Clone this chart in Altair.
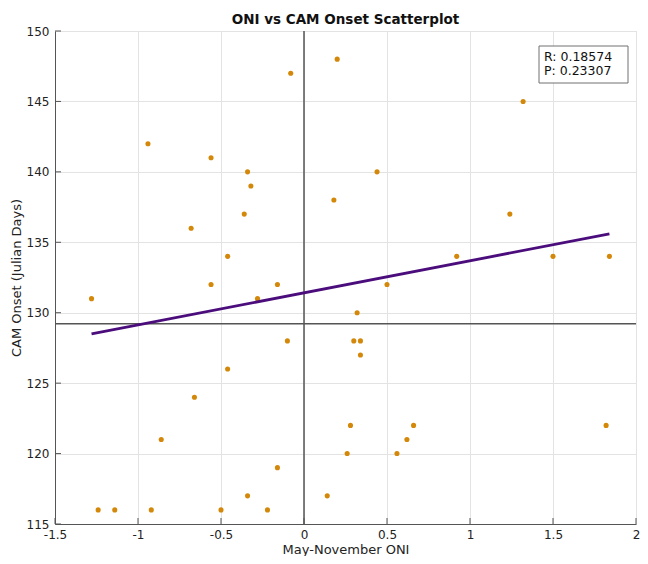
import altair as alt
import pandas as pd

# ---- data ----
oni = [-1.28, -1.24, -1.14, -0.94, -0.92, -0.86, -0.68, -0.66, -0.56, -0.56,
       -0.50, -0.46, -0.46, -0.36, -0.34, -0.34, -0.32, -0.28, -0.22, -0.16,
       -0.16, -0.10, -0.08, 0.14, 0.18, 0.20, 0.26, 0.28, 0.30, 0.32,
       0.34, 0.34, 0.44, 0.50, 0.56, 0.62, 0.66, 0.92, 1.24, 1.32,
       1.50, 1.82, 1.84]
onset = [131, 116, 116, 142, 116, 121, 136, 124, 141, 132,
         116, 134, 126, 137, 140, 117, 139, 131, 116, 132,
         119, 128, 147, 117, 138, 148, 120, 122, 128, 130,
         128, 127, 140, 132, 120, 121, 122, 134, 137, 145,
         134, 122, 134]
fit_x = [-1.28, 1.84]
fit_y = [128.5, 135.6]
x_ticks = [-1.5, -1, -0.5, 0, 0.5, 1, 1.5, 2]
y_ticks = [115, 120, 125, 130, 135, 140, 145, 150]
zero_x = [0]
stats_lines = ["R: 0.18574", "P: 0.23307"]

W, H = 581, 493
FONT = "DejaVu Sans"
XT = "May-November ONI"
YT = "CAM Onset (Julian Days)"
TXT = "#222222"
AX = "#555555"

df = pd.DataFrame({"oni": oni, "onset": onset})
xs = alt.Scale(domain=[-1.5, 2], nice=False, zero=False)
ys = alt.Scale(domain=[115, 150], nice=False, zero=False)

lab = "datum.value < 0 ? '-' + format(-datum.value, '~g') : format(datum.value, '~g')"

x_axis = alt.Axis(values=x_ticks, ticks=False, labelFontSize=12, labelPadding=5,
                  labelExpr=lab, titleFontSize=13, titleFontWeight="normal",
                  titleX=W / 2, titleY=29, titleBaseline="alphabetic", titleAlign="center",
                  domainColor=AX, gridColor="#e3e3e3", labelColor=TXT, titleColor=TXT,
                  labelFlush=False, labelOverlap=False, labelFont=FONT, titleFont=FONT)
y_axis = alt.Axis(values=y_ticks, ticks=False, labelFontSize=12, labelPadding=6,
                  labelExpr=lab, titleFontSize=13, titleFontWeight="normal",
                  titleX=-35, titleY=H / 2, titleBaseline="alphabetic", titleAlign="center",
                  domainColor=AX, gridColor="#e3e3e3", labelColor=TXT, titleColor=TXT,
                  labelFlush=False, labelOverlap=False, labelFont=FONT, titleFont=FONT)

axes_layer = alt.Chart(df).mark_circle(opacity=0).encode(
    x=alt.X("oni:Q", scale=xs, axis=x_axis, title=XT),
    y=alt.Y("onset:Q", scale=ys, axis=y_axis, title=YT),
)

zero_rule = alt.Chart(pd.DataFrame({"oni": zero_x})).mark_rule(color=AX, strokeWidth=1.5).encode(
    x=alt.X("oni:Q", scale=xs, title=XT)
)

mean_rule = alt.Chart(df).mark_rule(color=AX, strokeWidth=1.5).encode(
    y=alt.Y("mean(onset):Q", scale=ys, title=YT)
)

points = alt.Chart(df).mark_circle(size=26, color="#D4880A", opacity=1).encode(
    x=alt.X("oni:Q", scale=xs, title=XT),
    y=alt.Y("onset:Q", scale=ys, title=YT),
)

fit = alt.Chart(pd.DataFrame({"oni": fit_x, "onset": fit_y})).mark_line(
    color="#4B0C7C", strokeWidth=2.8
).encode(
    x=alt.X("oni:Q", scale=xs, title=XT),
    y=alt.Y("onset:Q", scale=ys, title=YT),
)

x_tick_marks = alt.Chart(pd.DataFrame({"oni": x_ticks})).mark_rule(color=AX, strokeWidth=1).encode(
    x=alt.X("oni:Q", scale=xs, title=XT), y=alt.value(H), y2=alt.value(H - 6)
)
y_tick_marks = alt.Chart(pd.DataFrame({"onset": y_ticks})).mark_rule(color=AX, strokeWidth=1).encode(
    y=alt.Y("onset:Q", scale=ys, title=YT), x=alt.value(0), x2=alt.value(6)
)

box = alt.Chart(pd.DataFrame({"b": [0]})).mark_rect(
    fill="white", stroke="#707070", strokeWidth=1
).encode(x=alt.value(484), x2=alt.value(573), y=alt.value(15), y2=alt.value(52))

stat_text1 = alt.Chart(pd.DataFrame({"line": stats_lines[:1]})).mark_text(
    align="left", baseline="middle", font=FONT, fontSize=12.5, color="#111111"
).encode(x=alt.value(489), y=alt.value(26), text="line:N")
stat_text2 = alt.Chart(pd.DataFrame({"line": stats_lines[1:]})).mark_text(
    align="left", baseline="middle", font=FONT, fontSize=12.5, color="#111111"
).encode(x=alt.value(489), y=alt.value(40), text="line:N")

chart = alt.layer(
    axes_layer, zero_rule, mean_rule, points, fit, x_tick_marks, y_tick_marks,
    box, stat_text1, stat_text2,
).properties(
    width=W, height=H,
    title=alt.TitleParams("ONI vs CAM Onset Scatterplot", font=FONT, fontSize=13.5,
                          fontWeight="bold", color="#111111", offset=3, dy=4, anchor="middle"),
    autosize=alt.AutoSizeParams(type="none"),
    padding={"left": 47, "top": 23, "right": 4, "bottom": 32},
).configure(font=FONT).configure_view(stroke="#dddddd", strokeWidth=1)

chart.save("out.html", embed_options={"renderer": "svg", "actions": False})
